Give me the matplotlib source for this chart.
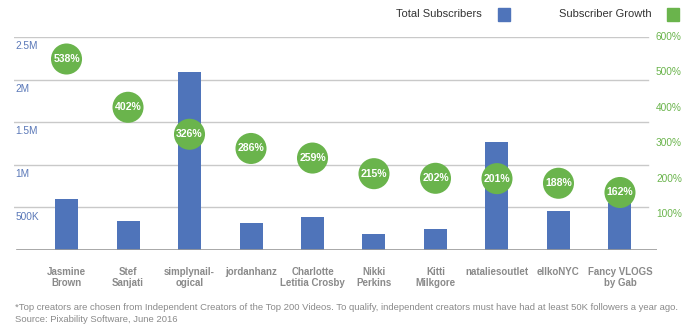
import matplotlib
matplotlib.use('Agg')
import matplotlib.pyplot as plt
import matplotlib.transforms as mtransforms
from matplotlib.patches import Rectangle

plt.rcParams['font.family'] = ['Liberation Sans', 'DejaVu Sans']

creators = ['Jasmine\nBrown', 'Stef\nSanjati', 'simplynail-\nogical', 'jordanhanz',
            'Charlotte\nLetitia Crosby', 'Nikki\nPerkins', 'Kitti\nMilkgore',
            'nataliesoutlet', 'ellkoNYC', 'Fancy VLOGS\nby Gab']
subscribers = [600000, 340000, 2085000, 320000, 386000, 190000, 246000, 1270000, 456000, 550000]
growth = [538, 402, 326, 286, 259, 215, 202, 201, 188, 162]

sub_ticks = [500000, 1000000, 1500000, 2000000, 2500000]
sub_labels = ['500K', '1M', '1.5M', '2M', '2.5M']
growth_ticks = [100, 200, 300, 400, 500, 600]

blue = '#4f74ba'
green = '#6ab44c'
grid_c = '#c9c9c9'
label_c = '#8a8a8a'

W, H = 696, 333
fig = plt.figure(figsize=(W / 100, H / 100), dpi=100)
ax = fig.add_axes([14 / W, 1 - 250 / H, 643 / W, 213 / H])

x = list(range(len(creators)))
ax.bar(x, subscribers, width=0.374, color=blue, zorder=2)
ax.set_xlim(-0.854, 9.602)
ax.set_ylim(0, 2500000)

for s in ax.spines.values():
    s.set_visible(False)
for v in sub_ticks:
    ax.axhline(v, xmin=0, xmax=634 / 643, color=grid_c, lw=1, zorder=0)
ax.axhline(0, xmin=3 / 643, xmax=1, color='#999999', lw=1.2, zorder=3)

ax.set_yticks([])
ax.set_xticks(x)
ax.set_xticklabels(creators, color=label_c, fontsize=7, fontweight='bold', linespacing=1.2)
ax.tick_params(axis='x', length=0, pad=12)

# left scale labels sit just under their gridlines
lt = mtransforms.offset_copy(mtransforms.blended_transform_factory(ax.transAxes, ax.transData),
                             fig=fig, x=1, y=-3, units='points')
for v, lab in zip(sub_ticks, sub_labels):
    ax.text(0, v, lab, transform=lt, va='top', ha='left', color='#5a78b8', fontsize=7.3)

ax2 = ax.twinx()
ax2.set_ylim(0, 600)
ax2.set_xlim(ax.get_xlim())
for s in ax2.spines.values():
    s.set_visible(False)
ax2.set_yticks([])
rt = mtransforms.blended_transform_factory(fig.transFigure, ax2.transData)
for v in growth_ticks:
    fig.text(656 / W, v, '%d%%' % v, transform=rt, va='center', ha='left', color=green, fontsize=7.3)

ax2.scatter(x, growth, s=500, color=green, edgecolors='none', zorder=4)
for xi, g in zip(x, growth):
    ax2.text(xi, g, '%d%%' % g, ha='center', va='center', color='white',
             fontsize=7.6, fontweight='bold', zorder=5)

# legend
fig.text(482 / W, 1 - 14 / H, 'Total Subscribers', ha='right', va='center', fontsize=8, color='#333333')
fig.patches.append(Rectangle((498 / W, 1 - 21 / H), 12 / W, 13 / H, transform=fig.transFigure,
                             color=blue, figure=fig))
fig.text(652 / W, 1 - 14 / H, 'Subscriber Growth', ha='right', va='center', fontsize=8, color='#333333')
fig.patches.append(Rectangle((667 / W, 1 - 21 / H), 12 / W, 13 / H, transform=fig.transFigure,
                             color=green, figure=fig))

fig.text(15 / W, 1 - 307 / H,
         '*Top creators are chosen from Independent Creators of the Top 200 Videos. To qualify, '
         'independent creators must have had at least 50K followers a year ago.',
         ha='left', va='center', fontsize=6.8, color=label_c)
fig.text(15 / W, 1 - 320 / H, 'Source: Pixability Software, June 2016',
         ha='left', va='center', fontsize=6.8, color=label_c)

fig.savefig('out.png', dpi=100)
